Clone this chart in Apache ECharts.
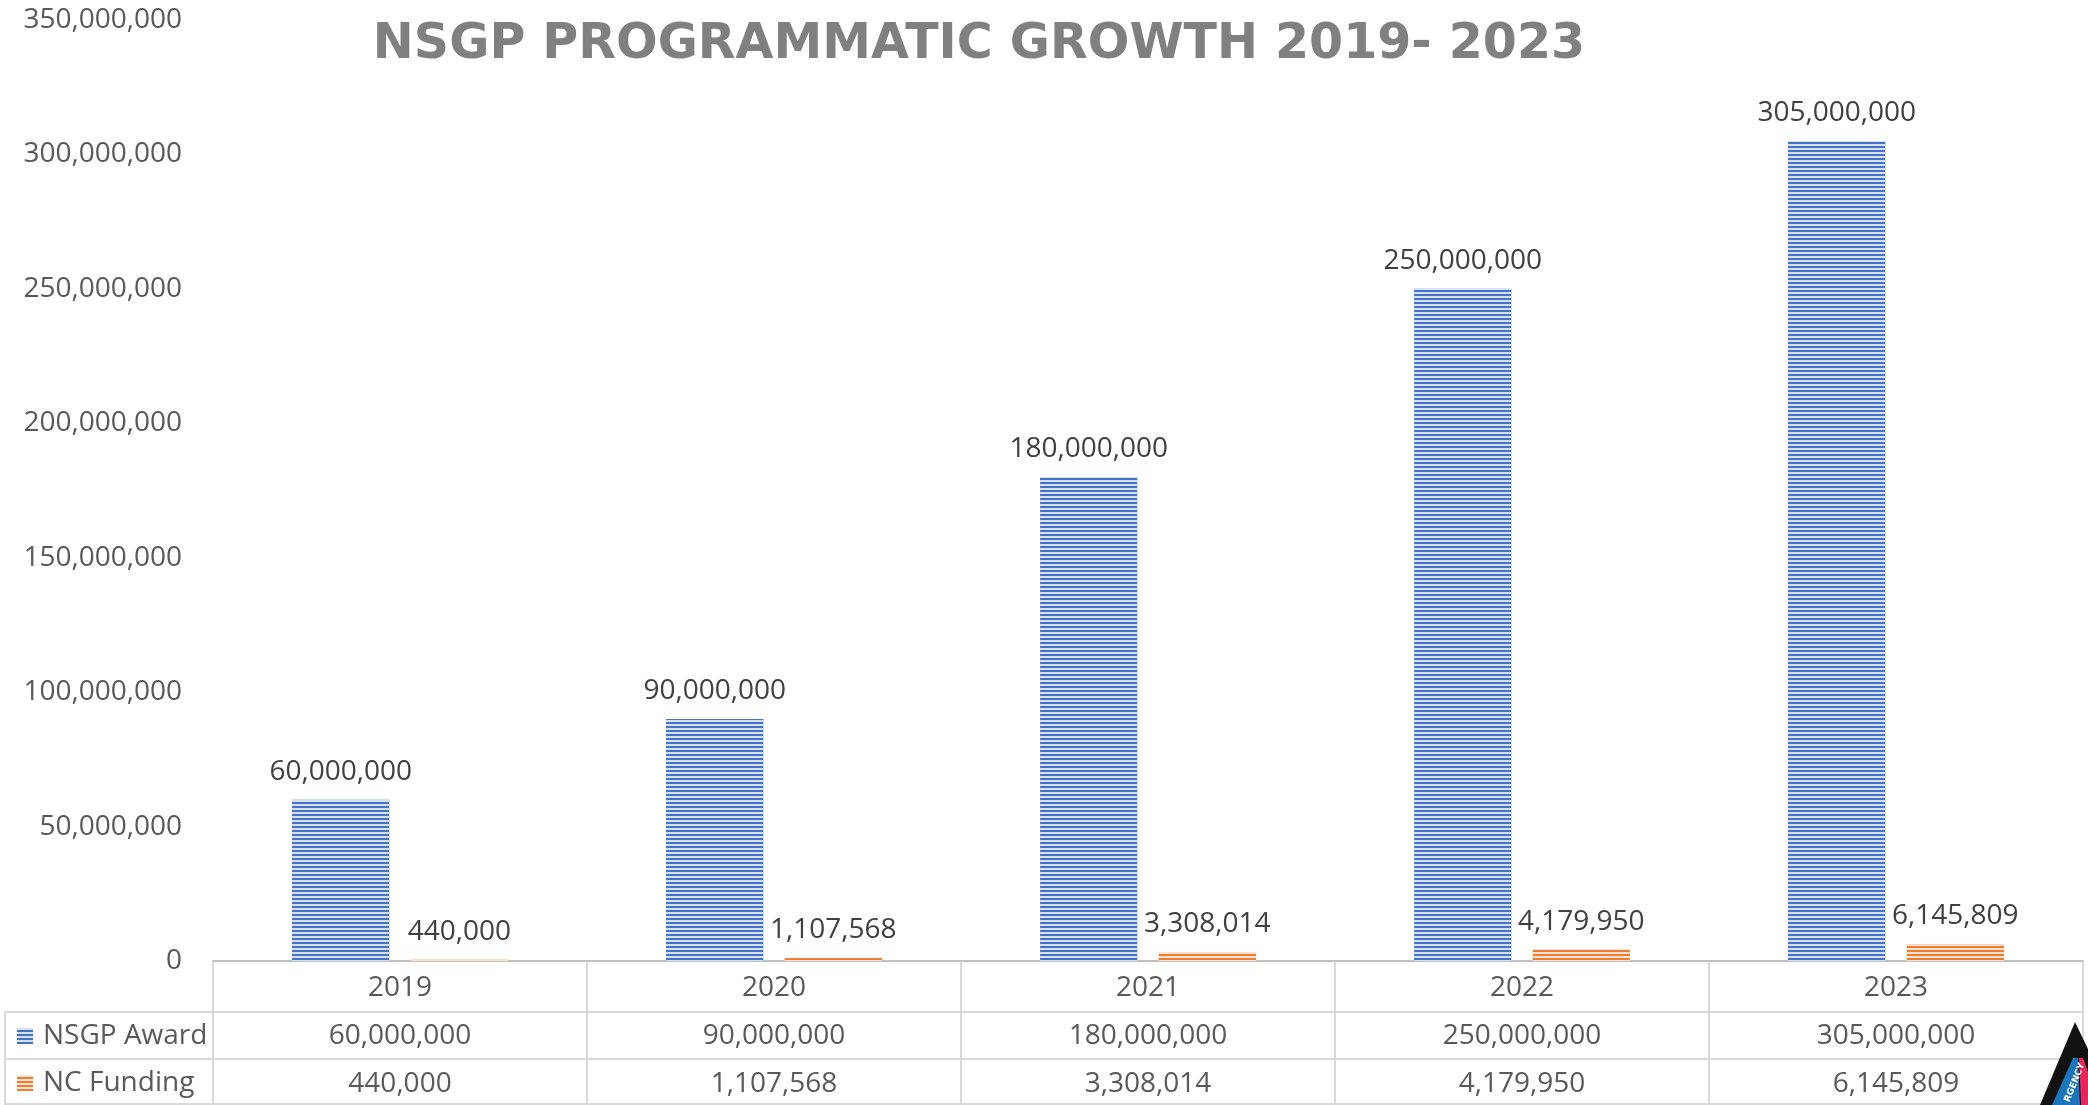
<!DOCTYPE html>
<html>
<head>
<meta charset="utf-8">
<script src="https://cdn.jsdelivr.net/npm/echarts@6/dist/echarts.min.js"></script>
<style>
html,body{margin:0;padding:0;background:#fff;}
#chart{width:2088px;height:1105px;}
</style>
</head>
<body>
<div id="chart"></div>
<script>
const years = ['2019', '2020', '2021', '2022', '2023'];
const nsgpAward = [60000000, 90000000, 180000000, 250000000, 305000000];
const ncFunding = [440000, 1107568, 3308014, 4179950, 6145809];
const seriesNames = ['NSGP Award', 'NC Funding'];
const titleText = 'NSGP PROGRAMMATIC GROWTH 2019- 2023';

const fmt = v => Number(v).toLocaleString('en-US');
const FONT = 'Open Sans';

const chart = echarts.init(document.getElementById('chart'));

const stripe = {
  symbol: 'rect', symbolSize: 1, dashArrayX: [1, 0], dashArrayY: [2, 2],
  color: 'rgba(255,255,255,0.78)', rotation: 0
};

const lineStyle = { stroke: '#d9d9d9', lineWidth: 2 };

const legendBase = {
  orient: 'vertical',
  left: 17,
  padding: 0, itemGap: 0,
  itemWidth: 16, itemHeight: 16,
  selectedMode: false,
  icon: 'rect',
  textStyle: { fontFamily: FONT, fontSize: 28, color: '#595959', lineHeight: 44, padding: [0, 0, 0, 5] }
};

const option = {
  animation: false,
  backgroundColor: '#ffffff',
  grid: { left: 213, right: 5, top: 20, bottom: 144, containLabel: false },
  legend: [
    Object.assign({}, legendBase, { data: [seriesNames[0]], top: 1014 }),
    Object.assign({}, legendBase, { data: [seriesNames[1]], top: 1061 })
  ],
  xAxis: {
    type: 'category',
    data: years,
    axisLine: { show: true, lineStyle: { color: '#bfbfbf', width: 2 } },
    axisTick: { show: true, length: 144, lineStyle: { color: '#d9d9d9', width: 2 } },
    axisLabel: {
      interval: 0, margin: 3,
      formatter: (value, idx) => `{y|${value}}\n{v|${fmt(nsgpAward[idx])}}\n{v|${fmt(ncFunding[idx])}}`,
      rich: {
        y: { fontFamily: FONT, fontSize: 28, color: '#595959', lineHeight: 48, align: 'center' },
        v: { fontFamily: FONT, fontSize: 28, color: '#595959', lineHeight: 48, align: 'center' }
      }
    }
  },
  yAxis: {
    type: 'value',
    min: 0, max: 350000000, interval: 50000000,
    axisLine: { show: false },
    axisTick: { show: false },
    splitLine: { show: false },
    axisLabel: {
      margin: 31, fontFamily: FONT, fontSize: 28, color: '#595959',
      formatter: v => fmt(v)
    }
  },
  series: [
    {
      name: seriesNames[0], type: 'bar', data: nsgpAward,
      barWidth: '26%', barGap: '22%',
      itemStyle: { color: '#4472c4', decal: stripe },
      label: { show: true, position: 'top', distance: 14, fontFamily: FONT, fontSize: 28, color: '#404040', formatter: p => fmt(p.value) }
    },
    {
      name: seriesNames[1], type: 'bar', data: ncFunding,
      barWidth: '26%', barGap: '22%',
      itemStyle: { color: '#ed7d31', decal: stripe },
      label: { show: true, position: 'top', distance: 14, fontFamily: FONT, fontSize: 28, color: '#404040', formatter: p => fmt(p.value) }
    }
  ],
  graphic: [
    { type: 'text', z: 10, style: { x: 979, y: 45, text: titleText, textAlign: 'center', textVerticalAlign: 'middle', font: 'bold 49px "DejaVu Sans"', fill: '#808080' } },
    { type: 'line', shape: { x1: 5, y1: 1012, x2: 2083, y2: 1012 }, style: lineStyle },
    { type: 'line', shape: { x1: 5, y1: 1059, x2: 2083, y2: 1059 }, style: lineStyle },
    { type: 'line', shape: { x1: 5, y1: 1104, x2: 2083, y2: 1104 }, style: lineStyle },
    { type: 'line', shape: { x1: 5, y1: 1012, x2: 5, y2: 1105 }, style: lineStyle },
    { type: 'polygon', z: 20, shape: { points: [[2075, 1022], [2040, 1105], [2115, 1105]] }, style: { fill: '#111111' } },
    { type: 'polygon', z: 21, shape: { points: [[2073, 1058], [2052, 1105], [2080, 1105], [2078, 1058]] }, style: { fill: '#1b75bc' } },
    { type: 'polygon', z: 21, shape: { points: [[2079, 1058], [2083, 1058], [2088, 1072], [2088, 1105], [2081, 1105]] }, style: { fill: '#e8265e' } },
    { type: 'text', z: 22, rotation: Math.PI * 0.38, x: 2063, y: 1100, style: { text: 'RGENCY', font: 'bold 9px "DejaVu Sans"', fill: '#ffffff' } }
  ]
};

chart.setOption(option);
</script>
</body>
</html>
